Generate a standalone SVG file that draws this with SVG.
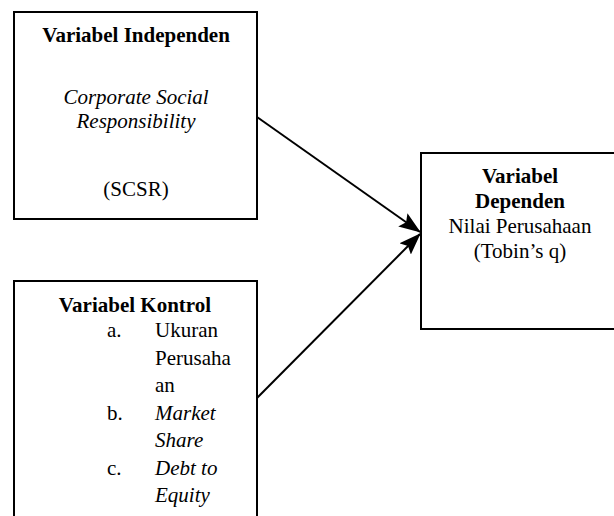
<svg xmlns="http://www.w3.org/2000/svg" width="614" height="516" viewBox="0 0 614 516">
<style>
.box{fill:#fff;stroke:#000;stroke-width:2}
.b{font-weight:bold}
.i{font-style:italic}
.c{text-anchor:middle}
.ln{stroke:#000;stroke-width:2;fill:none}
</style>
<defs>
<marker id="ah" markerUnits="userSpaceOnUse" markerWidth="22" markerHeight="16" refX="21" refY="8" orient="auto">
<path d="M0,0 L22,8 L0,16 L4,8 z" fill="#000"/>
</marker>
</defs>
<rect width="614" height="516" fill="#fff"/>
<g id="connectors">
<line class="ln" x1="257" y1="117" x2="420" y2="232" marker-end="url(#ah)"/>
<line class="ln" x1="257" y1="398" x2="420" y2="234" marker-end="url(#ah)"/>
</g>
<g font-family="Liberation Serif, DejaVu Serif, serif" font-size="21" fill="#000">
<g id="independen">
<rect class="box" x="14" y="12" width="243" height="207"/>
<text class="b c" x="136" y="42">Variabel Independen</text>
<text class="i c" x="136" y="104">Corporate Social</text>
<text class="i c" x="136" y="128">Responsibility</text>
<text class="c" x="136" y="196">(SCSR)</text>
</g>
<g id="kontrol">
<rect class="box" x="14" y="281" width="243" height="250"/>
<text class="b c" x="135" y="312">Variabel Kontrol</text>
<text x="107" y="337">a.</text>
<text x="155" y="337">Ukuran</text>
<text x="155" y="364.5">Perusaha</text>
<text x="155" y="392">an</text>
<text x="107" y="419.5">b.</text>
<text class="i" x="155" y="419.5">Market</text>
<text class="i" x="155" y="447">Share</text>
<text x="107" y="474.5">c.</text>
<text class="i" x="155" y="474.5">Debt to</text>
<text class="i" x="155" y="502">Equity</text>
</g>
<g id="dependen">
<rect class="box" x="421" y="153" width="200" height="176"/>
<text class="b c" x="520" y="183">Variabel</text>
<text class="b c" x="520" y="208">Dependen</text>
<text class="c" x="520" y="233">Nilai Perusahaan</text>
<text class="c" x="520" y="258">(Tobin’s q)</text>
</g>
</g>
</svg>
